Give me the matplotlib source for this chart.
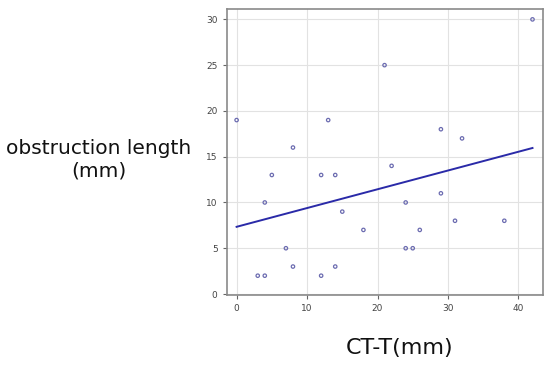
import numpy as np
import matplotlib.pyplot as plt

# CT-T (mm) vs obstruction length (mm)
ctt = [0, 3, 4, 4, 5, 7, 8, 8, 12, 12, 13, 14, 14, 15, 18, 21, 22, 24, 24, 25, 26, 29, 29, 31, 32, 38, 42]
obst = [19, 2, 2, 10, 13, 5, 3, 16, 2, 13, 19, 3, 13, 9, 7, 25, 14, 10, 5, 5, 7, 18, 11, 8, 17, 8, 30]

# fitted line
intercept = 7.34
slope = 0.205
line_x = [0, 42]

fig = plt.figure(figsize=(5.5, 3.65), dpi=100)
ax = fig.add_axes([0.412, 0.192, 0.575, 0.782])

ax.grid(True, color='#e2e2e2', linewidth=0.8)
ax.set_axisbelow(True)

ax.scatter(ctt, obst, s=6, facecolors='none', edgecolors='#6b6bb0', linewidths=0.9, zorder=3)
ax.plot(line_x, [intercept + slope * v for v in line_x], color='#2a2aa8', linewidth=1.4, zorder=4)

ax.set_xlim(-1.42, 43.47)
ax.set_ylim(-0.1, 31.08)
ax.set_xticks([0, 10, 20, 30, 40])
ax.set_yticks([0, 5, 10, 15, 20, 25, 30])
ax.tick_params(labelsize=6.5, labelcolor='#444444', color='#666666', length=3, width=0.8)

for s in ax.spines.values():
    s.set_color('#8a8a8a')
    s.set_linewidth(1.2)

fig.text(0.179, 0.562, 'obstruction length\n(mm)', ha='center', va='center',
         fontsize=14.5, linespacing=1.2, color='#111111')
fig.text(0.727, 0.047, 'CT-T(mm)', ha='center', va='center', fontsize=16, color='#111111')

fig.savefig('out.png', dpi=100)
